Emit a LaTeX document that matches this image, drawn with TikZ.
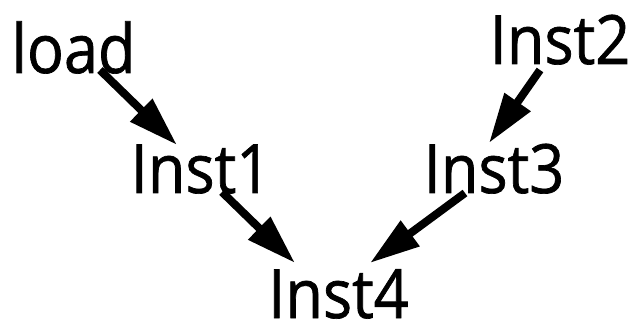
\documentclass[tikz,border=0pt]{standalone}
\usepackage{fontspec}
\setmainfont{Open Sans}[FakeStretch=0.9, FakeBold=1]
\usetikzlibrary{arrows.meta}

\begin{document}
\begin{tikzpicture}[x=1pt, y=1pt,
  inst/.style = {inner sep=0, anchor=base, font=\fontsize{68}{78}\selectfont},
  dep/.style = {line width=8pt, -{Triangle[length=50pt, width=30pt]}}]

\useasboundingbox (0,0) rectangle (636,326);

%% instruction labels
\node[inst] (load) at (73.5, 253) {load};
\node[inst] (inst1) at (201, 133) {Inst1};
\node[inst] (inst2) at (560, 262) {Inst2};
\node[inst] (inst3) at (494, 133) {Inst3};
\node[inst] (inst4) at (338.5, 8) {Inst4};

%%% dependencies
\draw[dep] ([shift={(26.5,3)}]load.base) -- ([shift={(-24,48)}]inst1.base);
\draw[dep] ([shift={(-20,-6)}]inst2.base) -- ([shift={(-5,50)}]inst3.base);
\draw[dep] ([shift={(21,1)}]inst1.base) -- ([shift={(-43.5,55)}]inst4.base);
\draw[dep] ([shift={(-29,0)}]inst3.base) -- ([shift={(31.5,55)}]inst4.base);

\end{tikzpicture}
\end{document}
